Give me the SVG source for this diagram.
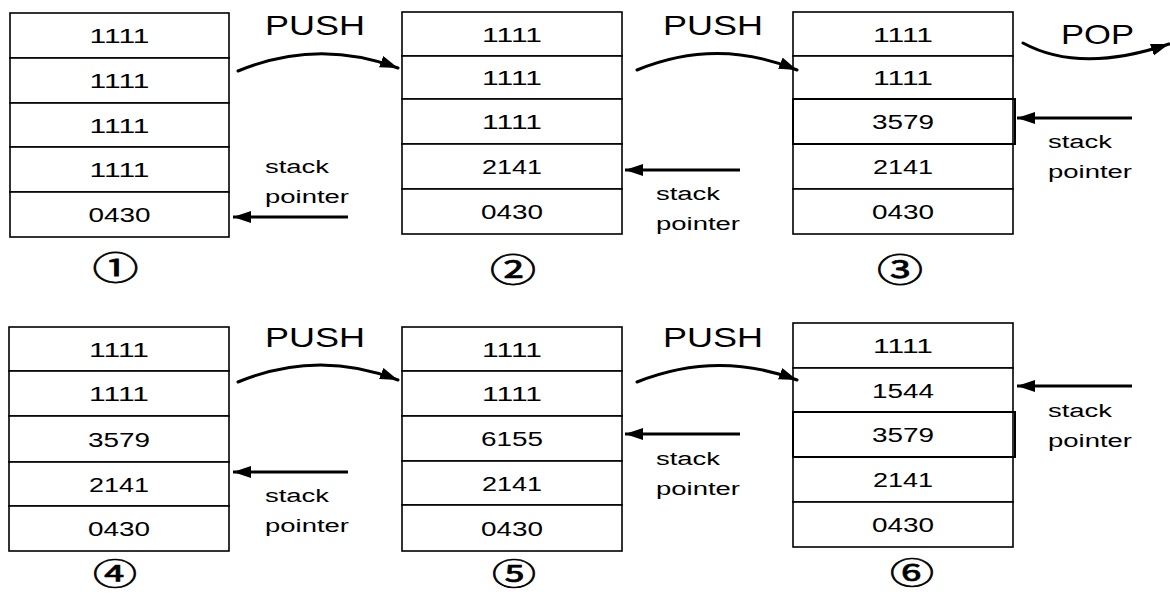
<svg xmlns="http://www.w3.org/2000/svg" width="1170" height="594" viewBox="0 0 1170 594">
<style>
.cell{fill:#fff;stroke:#000;stroke-width:1.6}
.hl{fill:none;stroke:#000;stroke-width:2}
.num{font-family:"Liberation Sans",Arial,sans-serif;font-size:20px;fill:#000;text-anchor:middle}
.op{font-family:"Liberation Sans",Arial,sans-serif;font-size:28px;fill:#000}
.lbl{font-family:"Liberation Sans",Arial,sans-serif;font-size:18px;fill:#000}
.circ{font-family:"Noto Sans CJK SC","DejaVu Sans",sans-serif;font-size:33px;fill:#000;stroke:#000;stroke-width:0.7;text-anchor:middle;dominant-baseline:central}
.circb{font-size:31px}
.sp{fill:none;stroke:#000;stroke-width:3}
.cv{fill:none;stroke:#000;stroke-width:3;stroke-linecap:round}
</style>
<defs>
<marker id="ah" markerUnits="userSpaceOnUse" markerWidth="20" markerHeight="14" refX="18" refY="6" orient="auto">
<path d="M0,0 L18,6 L0,12 z" fill="#000"/>
</marker>
</defs>
<g id="stack1">
<rect class="cell" x="10" y="13" width="219" height="45"/>
<rect class="cell" x="10" y="58" width="219" height="45"/>
<rect class="cell" x="10" y="103" width="219" height="44"/>
<rect class="cell" x="10" y="147" width="219" height="45"/>
<rect class="cell" x="10" y="192" width="219" height="45"/>
<text class="num" x="119.5" y="43" textLength="60" lengthAdjust="spacingAndGlyphs">1111</text>
<text class="num" x="119.5" y="88" textLength="60" lengthAdjust="spacingAndGlyphs">1111</text>
<text class="num" x="119.5" y="132.5" textLength="60" lengthAdjust="spacingAndGlyphs">1111</text>
<text class="num" x="119.5" y="177" textLength="60" lengthAdjust="spacingAndGlyphs">1111</text>
<text class="num" x="119.5" y="222" textLength="62" lengthAdjust="spacingAndGlyphs">0430</text>
<text class="circ" x="115.5" y="266" textLength="46" lengthAdjust="spacingAndGlyphs">①</text>
</g>
<g id="stack2">
<rect class="cell" x="402" y="12" width="220" height="44"/>
<rect class="cell" x="402" y="56" width="220" height="43"/>
<rect class="cell" x="402" y="99" width="220" height="45"/>
<rect class="cell" x="402" y="144" width="220" height="45"/>
<rect class="cell" x="402" y="189" width="220" height="45"/>
<text class="num" x="512" y="41.5" textLength="60" lengthAdjust="spacingAndGlyphs">1111</text>
<text class="num" x="512" y="85" textLength="60" lengthAdjust="spacingAndGlyphs">1111</text>
<text class="num" x="512" y="129" textLength="60" lengthAdjust="spacingAndGlyphs">1111</text>
<text class="num" x="512" y="174" textLength="60" lengthAdjust="spacingAndGlyphs">2141</text>
<text class="num" x="512" y="219" textLength="62" lengthAdjust="spacingAndGlyphs">0430</text>
<text class="circ" x="513" y="268" textLength="46" lengthAdjust="spacingAndGlyphs">②</text>
</g>
<g id="stack3">
<rect class="cell" x="793" y="12" width="220" height="44"/>
<rect class="cell" x="793" y="56" width="220" height="43"/>
<rect class="cell" x="793" y="99" width="220" height="45"/>
<rect class="cell" x="793" y="144" width="220" height="45"/>
<rect class="cell" x="793" y="189" width="220" height="45"/>
<rect class="hl" x="793" y="99" width="222" height="45"/>
<text class="num" x="903" y="41.5" textLength="60" lengthAdjust="spacingAndGlyphs">1111</text>
<text class="num" x="903" y="85" textLength="60" lengthAdjust="spacingAndGlyphs">1111</text>
<text class="num" x="903" y="129" textLength="62" lengthAdjust="spacingAndGlyphs">3579</text>
<text class="num" x="903" y="174" textLength="60" lengthAdjust="spacingAndGlyphs">2141</text>
<text class="num" x="903" y="219" textLength="62" lengthAdjust="spacingAndGlyphs">0430</text>
<text class="circ" x="900" y="268" textLength="46" lengthAdjust="spacingAndGlyphs">③</text>
</g>
<g id="stack4">
<rect class="cell" x="9" y="327" width="220" height="44"/>
<rect class="cell" x="9" y="371" width="220" height="45"/>
<rect class="cell" x="9" y="416" width="220" height="46"/>
<rect class="cell" x="9" y="462" width="220" height="44"/>
<rect class="cell" x="9" y="506" width="220" height="45"/>
<text class="num" x="119" y="356.5" textLength="60" lengthAdjust="spacingAndGlyphs">1111</text>
<text class="num" x="119" y="401" textLength="60" lengthAdjust="spacingAndGlyphs">1111</text>
<text class="num" x="119" y="446.5" textLength="62" lengthAdjust="spacingAndGlyphs">3579</text>
<text class="num" x="119" y="491.5" textLength="60" lengthAdjust="spacingAndGlyphs">2141</text>
<text class="num" x="119" y="536" textLength="62" lengthAdjust="spacingAndGlyphs">0430</text>
<text class="circ circb" x="115" y="571" textLength="44" lengthAdjust="spacingAndGlyphs">④</text>
</g>
<g id="stack5">
<rect class="cell" x="402" y="327" width="220" height="44"/>
<rect class="cell" x="402" y="371" width="220" height="45"/>
<rect class="cell" x="402" y="416" width="220" height="45"/>
<rect class="cell" x="402" y="461" width="220" height="44"/>
<rect class="cell" x="402" y="505" width="220" height="46"/>
<text class="num" x="512" y="356.5" textLength="60" lengthAdjust="spacingAndGlyphs">1111</text>
<text class="num" x="512" y="401" textLength="60" lengthAdjust="spacingAndGlyphs">1111</text>
<text class="num" x="512" y="446" textLength="62" lengthAdjust="spacingAndGlyphs">6155</text>
<text class="num" x="512" y="490.5" textLength="60" lengthAdjust="spacingAndGlyphs">2141</text>
<text class="num" x="512" y="535.5" textLength="62" lengthAdjust="spacingAndGlyphs">0430</text>
<text class="circ circb" x="514" y="571" textLength="44" lengthAdjust="spacingAndGlyphs">⑤</text>
</g>
<g id="stack6">
<rect class="cell" x="793" y="323" width="220" height="45"/>
<rect class="cell" x="793" y="368" width="220" height="44"/>
<rect class="cell" x="793" y="412" width="220" height="45"/>
<rect class="cell" x="793" y="457" width="220" height="45"/>
<rect class="cell" x="793" y="502" width="220" height="45"/>
<rect class="hl" x="793" y="412" width="222" height="45"/>
<text class="num" x="903" y="353" textLength="60" lengthAdjust="spacingAndGlyphs">1111</text>
<text class="num" x="903" y="397.5" textLength="62" lengthAdjust="spacingAndGlyphs">1544</text>
<text class="num" x="903" y="442" textLength="62" lengthAdjust="spacingAndGlyphs">3579</text>
<text class="num" x="903" y="487" textLength="60" lengthAdjust="spacingAndGlyphs">2141</text>
<text class="num" x="903" y="532" textLength="62" lengthAdjust="spacingAndGlyphs">0430</text>
<text class="circ circb" x="912" y="570" textLength="44" lengthAdjust="spacingAndGlyphs">⑥</text>
</g>
<g id="labels">
<text class="op" x="265" y="35" textLength="100" lengthAdjust="spacingAndGlyphs">PUSH</text>
<text class="op" x="663" y="35" textLength="100" lengthAdjust="spacingAndGlyphs">PUSH</text>
<text class="op" x="1061" y="44" textLength="73" lengthAdjust="spacingAndGlyphs">POP</text>
<text class="op" x="265" y="347" textLength="100" lengthAdjust="spacingAndGlyphs">PUSH</text>
<text class="op" x="663" y="347" textLength="100" lengthAdjust="spacingAndGlyphs">PUSH</text>
<text class="lbl" x="265" y="173" textLength="64" lengthAdjust="spacingAndGlyphs">stack</text>
<text class="lbl" x="265" y="203" textLength="84" lengthAdjust="spacingAndGlyphs">pointer</text>
<text class="lbl" x="656" y="200" textLength="64" lengthAdjust="spacingAndGlyphs">stack</text>
<text class="lbl" x="656" y="230" textLength="84" lengthAdjust="spacingAndGlyphs">pointer</text>
<text class="lbl" x="1048" y="148" textLength="64" lengthAdjust="spacingAndGlyphs">stack</text>
<text class="lbl" x="1048" y="178" textLength="84" lengthAdjust="spacingAndGlyphs">pointer</text>
<text class="lbl" x="265" y="502" textLength="64" lengthAdjust="spacingAndGlyphs">stack</text>
<text class="lbl" x="265" y="532" textLength="84" lengthAdjust="spacingAndGlyphs">pointer</text>
<text class="lbl" x="656" y="465" textLength="64" lengthAdjust="spacingAndGlyphs">stack</text>
<text class="lbl" x="656" y="495" textLength="84" lengthAdjust="spacingAndGlyphs">pointer</text>
<text class="lbl" x="1048" y="417" textLength="64" lengthAdjust="spacingAndGlyphs">stack</text>
<text class="lbl" x="1048" y="447" textLength="84" lengthAdjust="spacingAndGlyphs">pointer</text>
</g>
<g id="connectors">
<path class="cv" d="M238,71 Q318,38 398,68" marker-end="url(#ah)"/>
<path class="cv" d="M637,70 Q717,37 797,70" marker-end="url(#ah)"/>
<path class="cv" d="M1023,43 Q1080,74 1169,44" marker-end="url(#ah)"/>
<path class="cv" d="M238,382 Q318,349 398,380" marker-end="url(#ah)"/>
<path class="cv" d="M637,382 Q717,350 797,380" marker-end="url(#ah)"/>
<line class="sp" x1="348" y1="217" x2="233" y2="217" marker-end="url(#ah)"/>
<line class="sp" x1="740" y1="170" x2="625" y2="170" marker-end="url(#ah)"/>
<line class="sp" x1="1132" y1="118" x2="1017" y2="118" marker-end="url(#ah)"/>
<line class="sp" x1="348" y1="472" x2="233" y2="472" marker-end="url(#ah)"/>
<line class="sp" x1="740" y1="434" x2="625" y2="434" marker-end="url(#ah)"/>
<line class="sp" x1="1132" y1="386" x2="1017" y2="386" marker-end="url(#ah)"/>
</g>
</svg>
